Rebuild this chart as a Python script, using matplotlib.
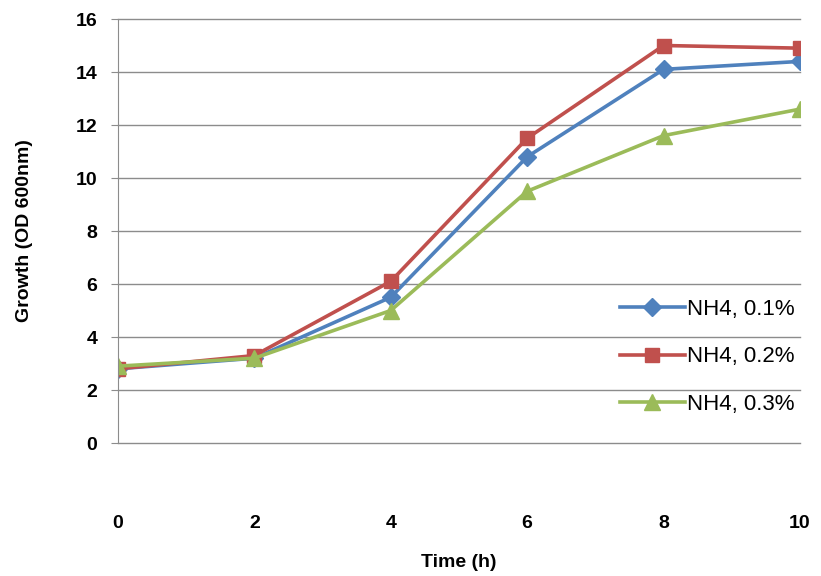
"""Growth curves for different NH4 concentrations."""
import matplotlib.pyplot as plt

time_h = [0, 2, 4, 6, 8, 10]
nh4_01 = [2.8, 3.2, 5.5, 10.8, 14.1, 14.4]
nh4_02 = [2.8, 3.3, 6.1, 11.5, 15.0, 14.9]
nh4_03 = [2.9, 3.2, 5.0, 9.5, 11.6, 12.6]
labels = ["NH4, 0.1%", "NH4, 0.2%", "NH4, 0.3%"]

plt.rcParams["font.family"] = ["Liberation Sans", "DejaVu Sans"]

fig = plt.figure(figsize=(8.21, 5.76), dpi=100)
ax = fig.add_axes([0.1437, 0.2309, 0.8307, 0.7361])

ax.plot(time_h, nh4_01, color="#4F81BD", lw=2.6, marker="D", ms=9, label=labels[0])
ax.plot(time_h, nh4_02, color="#C0504D", lw=2.6, marker="s", ms=10, label=labels[1])
ax.plot(time_h, nh4_03, color="#9BBB59", lw=2.6, marker="^", ms=11, label=labels[2])

ax.set_xlim(0, 10)
ax.set_ylim(0, 16)
ax.set_xticks(range(0, 11, 2))
ax.set_yticks(range(0, 17, 2))
ax.grid(axis="y", color="#8c8c8c", lw=1)
for line in ax.get_ygridlines():
    line.set_clip_on(False)
ax.set_axisbelow(True)
for side in ["top", "right", "bottom"]:
    ax.spines[side].set_visible(False)
ax.spines["left"].set_color("#8c8c8c")
ax.tick_params(axis="y", length=5, color="#8c8c8c", labelsize=14, pad=10)
ax.tick_params(axis="x", length=0, labelsize=14, pad=52)
for lbl in ax.get_xticklabels() + ax.get_yticklabels():
    lbl.set_fontweight("bold")

ax.set_xlabel("Time (h)", fontsize=14, fontweight="bold", va="center")
ax.set_ylabel("Growth (OD 600nm)", fontsize=14, fontweight="bold", va="center")
ax.xaxis.set_label_coords(0.5, -0.283)
ax.yaxis.set_label_coords(-0.137, 0.5)

ax.legend(loc="lower right", bbox_to_anchor=(1.005, 0.045), frameon=False,
          fontsize=16, labelspacing=1.2, handlelength=2.9, handletextpad=0.1,
          borderaxespad=0)

fig.savefig("out.png", dpi=100)
